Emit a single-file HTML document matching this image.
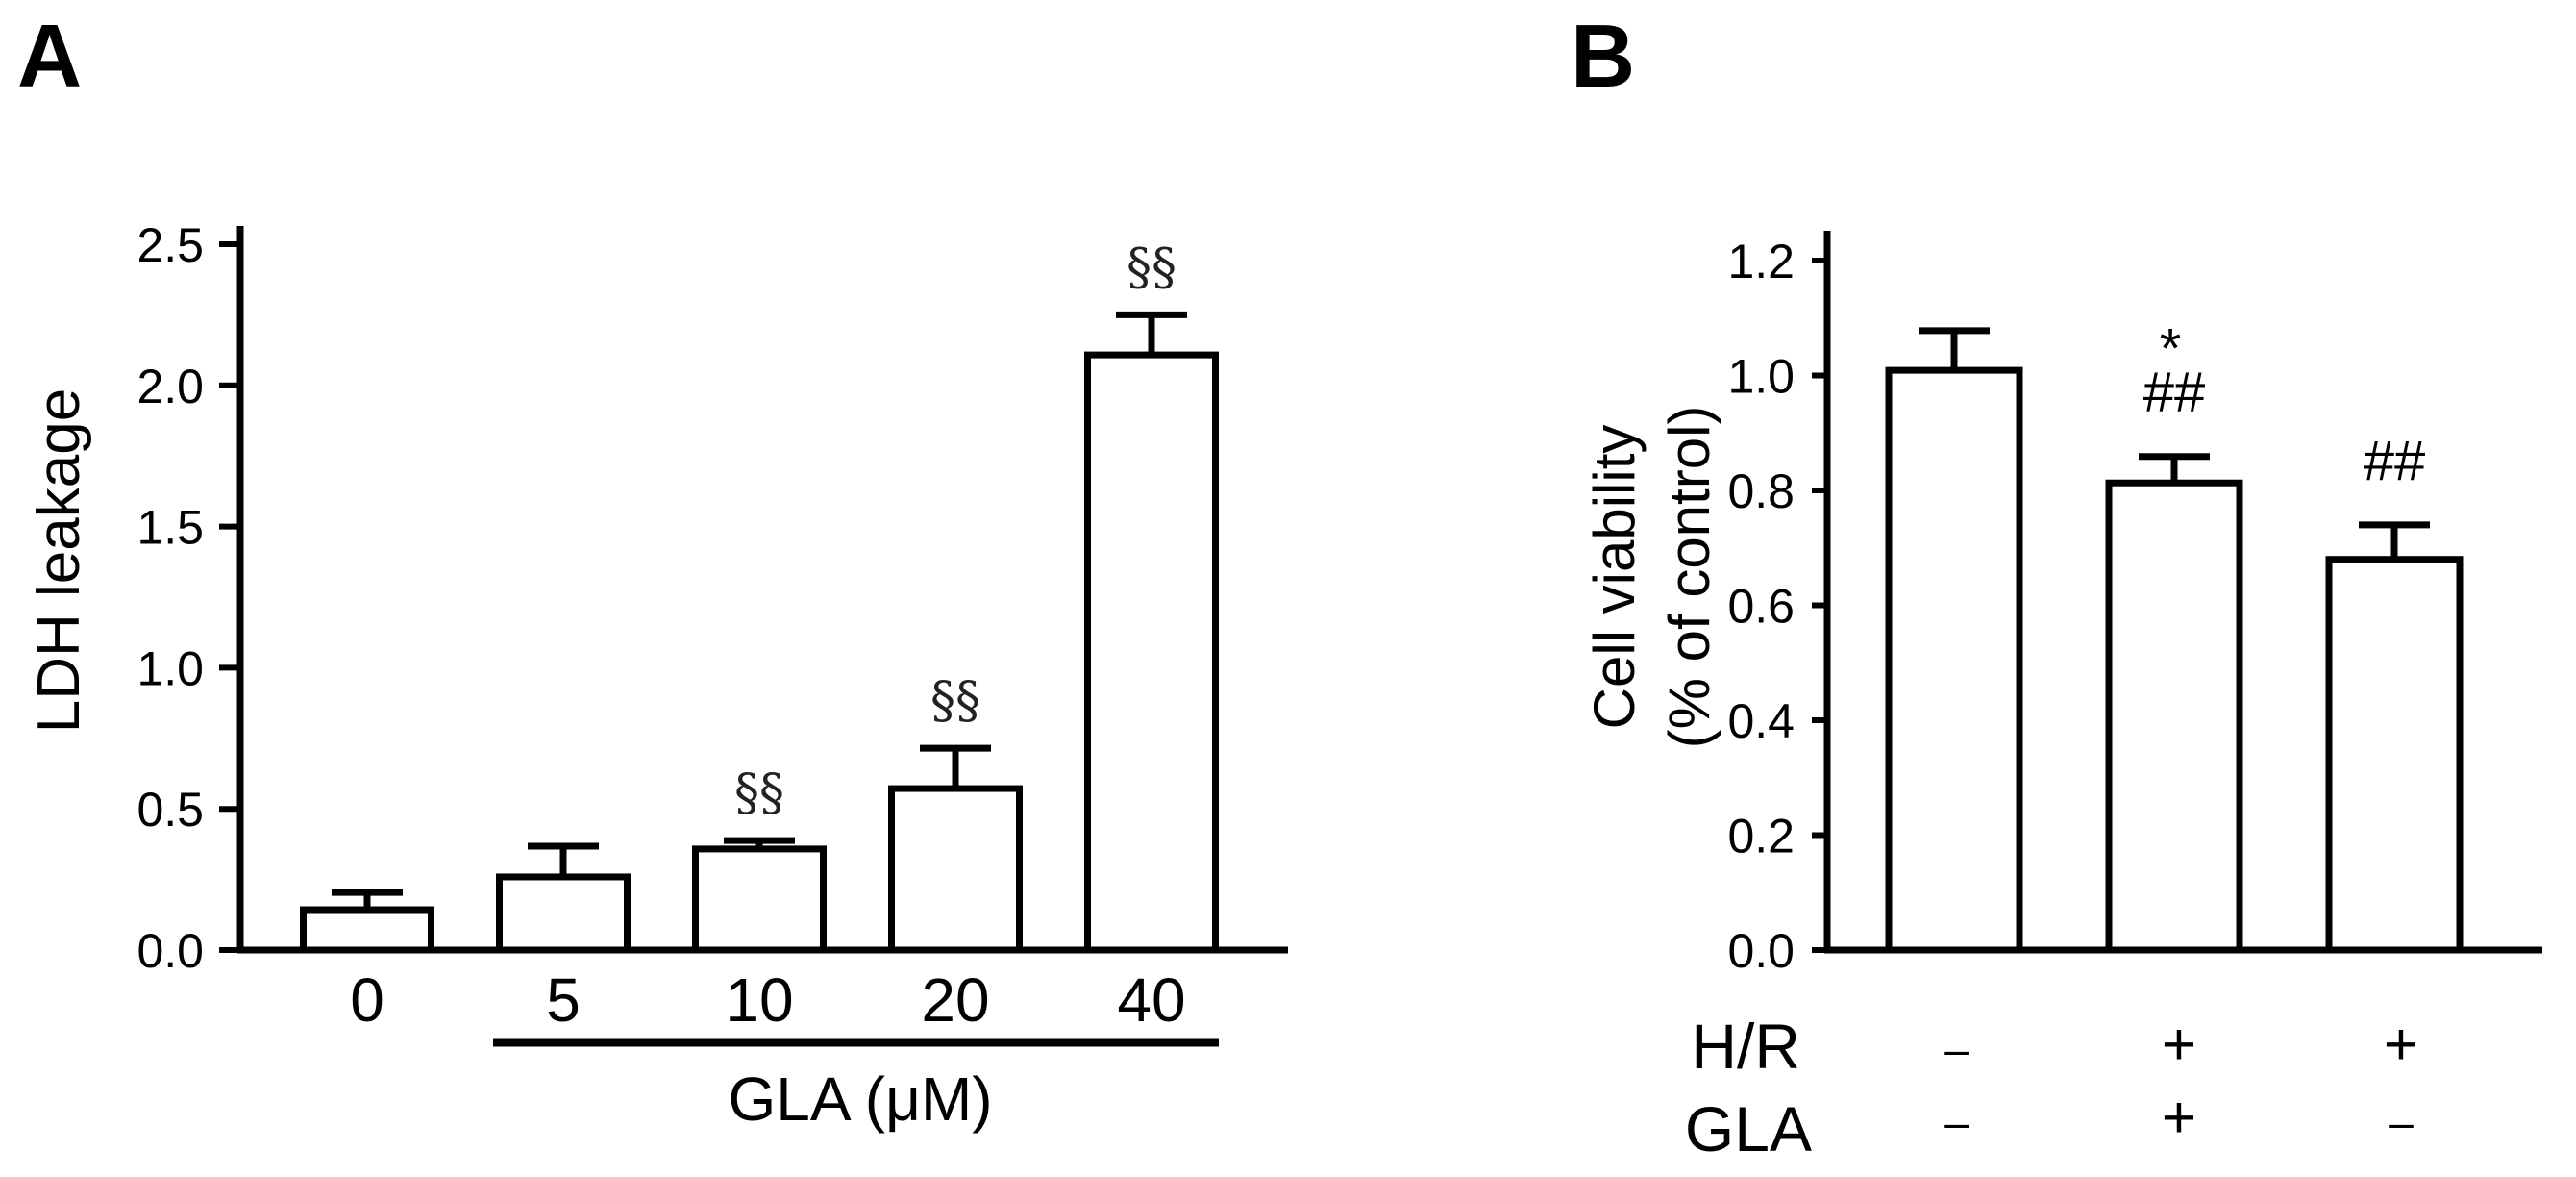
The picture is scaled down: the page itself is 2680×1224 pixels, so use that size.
<!DOCTYPE html>
<html><head><meta charset="utf-8"><style>
html,body{margin:0;padding:0;background:#fff;}
svg{display:block;font-family:"Liberation Sans",Arial,sans-serif;}
</style></head><body>
<svg id="fig" width="2680" height="1224" viewBox="0 0 2680 1224">
<text x="18" y="90" font-size="93" font-weight="bold">A</text>
<text x="1634" y="90" font-size="93" font-weight="bold">B</text>
<g id="pa"></g>
<g id="pb"></g>
</svg>
<script>
const catsA = ["0","5","10","20","40"];
const valsA = [0.143, 0.259, 0.358, 0.572, 2.108];
const errA = [0.204, 0.368, 0.388, 0.715, 2.25];
const annA = ["", "", "§§", "§§", "§§"];
const ticksA = ["0.0","0.5","1.0","1.5","2.0","2.5"];
const tickValsA = [0, 0.5, 1.0, 1.5, 2.0, 2.5];

const valsB = [1.009, 0.813, 0.68];
const errB = [1.078, 0.859, 0.74];
const annB1 = ["", "*", ""];
const annB2 = ["", "##", "##"];
const hrRow = ["–", "+", "+"];
const glaRow = ["–", "+", "–"];
const ticksB = ["0.0","0.2","0.4","0.6","0.8","1.0","1.2"];
const tickValsB = [0, 0.2, 0.4, 0.6, 0.8, 1.0, 1.2];

const NS = "http://www.w3.org/2000/svg";
function mk(parent, tag, attrs, txt){
  const e = document.createElementNS(NS, tag);
  for (const k in attrs) e.setAttribute(k, attrs[k]);
  if (txt !== undefined) e.textContent = txt;
  parent.appendChild(e);
  return e;
}

// Panel A
(function(){
  const g = document.getElementById('pa');
  const y0 = 988, ppu = 293.6, axX = 250;
  const y = v => y0 - v * ppu;
  const cx = i => 382 + i * 204;
  const bw = 133;
  let e;
  e = mk(g, 'line', {x1:axX, y1:235, x2:axX, y2:y0+3, stroke:'#000','stroke-width':7});
  
  
  e = mk(g, 'line', {x1:axX-3, y1:y0, x2:1340, y2:y0, stroke:'#000','stroke-width':7});
  
  
  tickValsA.forEach((v,i)=>{
    const t = mk(g,'line',{x1:axX-22,y1:y(v),x2:axX,y2:y(v),stroke:'#000','stroke-width':6});
    
    
    const l = mk(g,'text',{x:212,y:y(v)+18,'font-size':50,'text-anchor':'end'},ticksA[i]);
    
    
  });
  valsA.forEach((v,i)=>{
    const c = cx(i);
    const eb = mk(g,'path',{d:`M${c} ${y(v)} V${y(errA[i])} M${c-37} ${y(errA[i])} H${c+37}`,stroke:'#000','stroke-width':7,fill:'none'});
    
    
    const r = mk(g,'rect',{x:c-bw/2,y:y(v),width:bw,height:y0-y(v),fill:'#fff',stroke:'#000','stroke-width':7});
    
    
    const lb = mk(g,'text',{x:c,y:1062,'font-size':64,'text-anchor':'middle'},catsA[i]);
    
    
    if (annA[i]) {
      const a = mk(g,'text',{x:c,y:y(errA[i])-32,'font-size':52,'text-anchor':'middle',fill:'#222','font-family':'"DejaVu Serif","Liberation Serif",serif'},annA[i]);
      
      
    }
  });
  e = mk(g,'line',{x1:513,y1:1084,x2:1268,y2:1084,stroke:'#000','stroke-width':9});
  
  
  e = mk(g,'text',{x:895,y:1165,'font-size':64,'text-anchor':'middle'},'GLA (μM)');
  
  
  e = mk(g,'text',{x:0,y:0,'font-size':62,'text-anchor':'middle',transform:'translate(82,583) rotate(-90)'},'LDH leakage');
  
  
})();

// Panel B
(function(){
  const g = document.getElementById('pb');
  const y0 = 988, ppu = 597.5, axX = 1901;
  const y = v => y0 - v * ppu;
  const cx = i => 2033 + i * 229;
  const rowX = i => 2036 + i * 231;
  const bw = 136;
  let e;
  e = mk(g,'line',{x1:axX,y1:240,x2:axX,y2:y0+3,stroke:'#000','stroke-width':7});
  
  
  e = mk(g,'line',{x1:axX-3,y1:y0,x2:2645,y2:y0,stroke:'#000','stroke-width':7});
  
  
  tickValsB.forEach((v,i)=>{
    const t = mk(g,'line',{x1:axX-16,y1:y(v),x2:axX,y2:y(v),stroke:'#000','stroke-width':6});
    
    
    const l = mk(g,'text',{x:1867,y:y(v)+18,'font-size':50,'text-anchor':'end'},ticksB[i]);
    
    
  });
  valsB.forEach((v,i)=>{
    const c = cx(i);
    const eb = mk(g,'path',{d:`M${c} ${y(v)} V${y(errB[i])} M${c-37} ${y(errB[i])} H${c+37}`,stroke:'#000','stroke-width':7,fill:'none'});
    
    
    const r = mk(g,'rect',{x:c-bw/2,y:y(v),width:bw,height:y0-y(v),fill:'#fff',stroke:'#000','stroke-width':7});
    
    
    if (annB2[i]) {
      const a = mk(g,'text',{x:c,y:y(errB[i])-47,'font-size':58,'text-anchor':'middle'},annB2[i]);
      
      
    }
    if (annB1[i]) {
      const a = mk(g,'text',{x:c-4,y:y(errB[i])-92,'font-size':58,'text-anchor':'middle'},annB1[i]);
      
      
    }
    const h = mk(g,'text',{x:rowX(i),y:1107,'font-size':hrRow[i]==='+'?62:46,'text-anchor':'middle'},hrRow[i]);
    
    
    const q = mk(g,'text',{x:rowX(i),y:1183,'font-size':glaRow[i]==='+'?62:46,'text-anchor':'middle'},glaRow[i]);
    
    
  });
  e = mk(g,'text',{x:1873,y:1111,'font-size':66,'text-anchor':'end'},'H/R');
  
  
  e = mk(g,'text',{x:1885,y:1197,'font-size':66,'text-anchor':'end'},'GLA');
  
  
  e = mk(g,'text',{x:0,y:0,'font-size':60,'text-anchor':'middle',transform:'translate(1700,600) rotate(-90)'},'Cell viability');
  
  
  e = mk(g,'text',{x:0,y:0,'font-size':60,'text-anchor':'middle',transform:'translate(1778,600) rotate(-90)'},'(% of control)');
  
  
})();
</script>
</body></html>
